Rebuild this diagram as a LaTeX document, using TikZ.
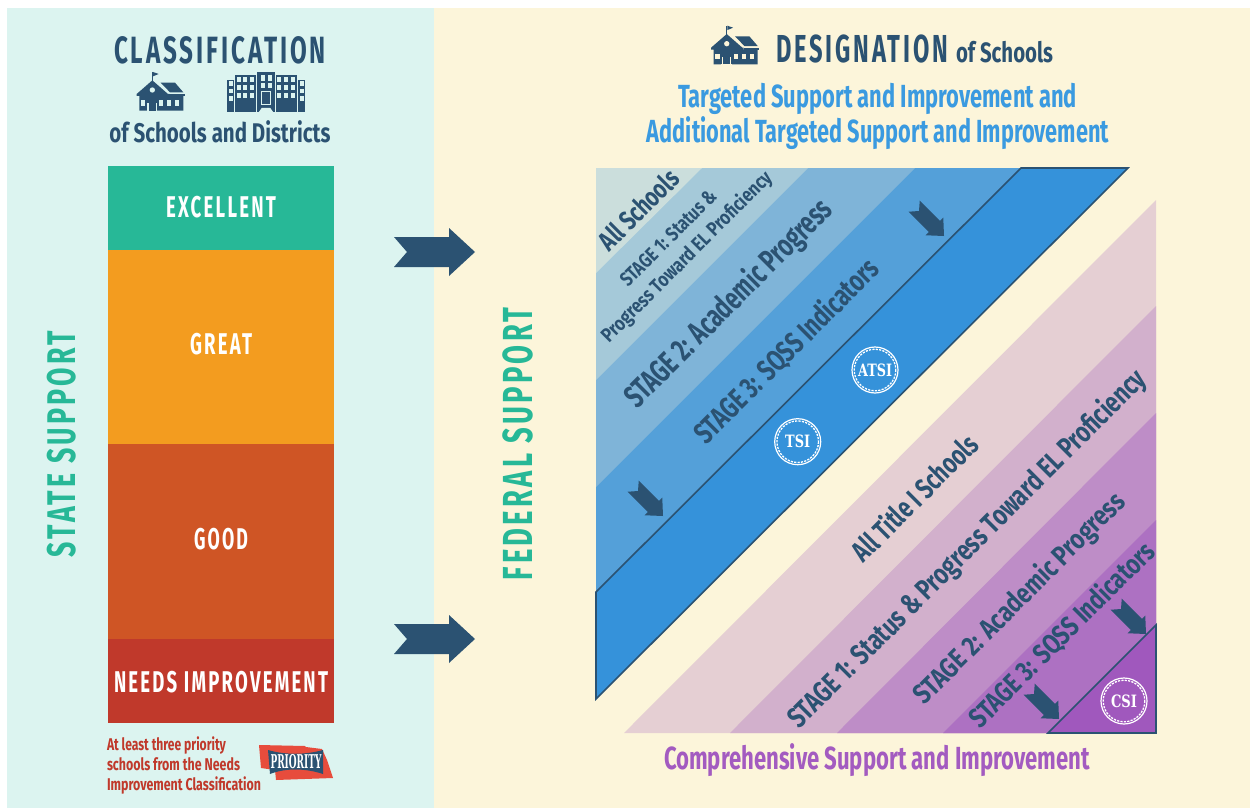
\documentclass[tikz,border=0pt]{standalone}
\usepackage{fontspec}
\usepackage{graphicx}
\newfontfamily\din{Fira Sans}
\newfontfamily\dinsp[LetterSpace=12]{Fira Sans}
\newfontfamily\slab{DejaVu Serif}
\definecolor{ink}{HTML}{2B5272}
\definecolor{mint}{HTML}{DCF4F0}
\definecolor{cream}{HTML}{FCF5DA}
\definecolor{teal}{HTML}{27B897}
\definecolor{amberx}{HTML}{F39C1F}
\definecolor{rustx}{HTML}{CF5525}
\definecolor{redx}{HTML}{C0392B}
\definecolor{skyx}{HTML}{3A9AE0}
\definecolor{purx}{HTML}{A35BC0}
\definecolor{bA}{HTML}{CBDEDC}
\definecolor{bB}{HTML}{A5C9D9}
\definecolor{bC}{HTML}{7FB4D8}
\definecolor{bD}{HTML}{54A0D9}
\definecolor{bE}{HTML}{3592DA}
\definecolor{pA}{HTML}{E5CFD3}
\definecolor{pB}{HTML}{D2B0CC}
\definecolor{pC}{HTML}{BE8DC7}
\definecolor{pD}{HTML}{AD71C2}
\definecolor{pE}{HTML}{A058BD}
\definecolor{flagred}{HTML}{E74C3C}
\newcommand{\fit}[3]{{\fontsize{#2}{#2}\selectfont\din\bfseries\resizebox{#1pt}{\height}{#3}}}
\newcommand{\fitsp}[3]{{\fontsize{#2}{#2}\selectfont\dinsp\bfseries\resizebox{#1pt}{\height}{#3}}}
\newcommand{\slabfit}[3]{{\fontsize{#2}{#2}\selectfont\slab\bfseries\resizebox{#1pt}{\height}{#3}}}
\newcommand{\schoolicon}[3]{%
\begin{scope}[shift={(#1,#2)},x=0.3333pt,y=-0.3333pt]
\fill[ink] (66,12) rectangle (69,40);
\fill[ink] (69,12) -- (86,18) -- (69,25) -- cycle;
\fill[ink] (67,37) -- (20,78) -- (20,84) -- (28,84) -- (28,128) -- (160,128) -- (160,84) -- (118,84) -- (118,78) -- (114,78) -- cycle;
\fill[ink] (118,78) rectangle (164,84);
\fill[ink] (92,44) -- (135,44) -- (160,73) -- (120,73) -- cycle;
\fill[#3] (67,66) circle (8);
\fill[#3] (33,97) rectangle (46,113);
\fill[#3] (88,97) rectangle (100,113);
\fill[#3] (112,97) rectangle (124,113);
\fill[#3] (136,97) rectangle (148,113);
\fill[#3] (52,106) rectangle (80,128);
\fill[ink] (56,92) rectangle (78,128);
\fill[#3] (50,128) rectangle (82,129);
\end{scope}}
\newcommand{\bigarrowshape}{(0,0) -- (-26,-24) -- (-26,-15) -- (-81,-15) -- (-68,0) -- (-81,15) -- (-26,15) -- (-26,24) -- cycle}
\tikzset{
  txt/.style={inner sep=0pt,outer sep=0pt,text=ink},
  wtxt/.style={inner sep=0pt,outer sep=0pt,text=white},
  diag/.style={txt,rotate=45},
  arrowfill/.style={fill=ink},
  bandline/.style={draw=ink,line width=1.6pt,line join=miter},
  badge/.style={circle,draw=white,line width=1.2pt,minimum size=46pt,inner sep=0pt,text=white},
}
\newcommand{\badgering}[2]{\draw[white,line width=1.3pt,dash pattern=on 2.2pt off 1.2pt] (#1,#2) circle (20.8);}
\begin{document}
\begin{tikzpicture}[x=1pt,y=-1pt]
\useasboundingbox (0,0) rectangle (1250,808);
\fill[white] (0,0) rectangle (1250,808);
\fill[mint] (7,8) rectangle (434,808);
\fill[cream] (434,8) rectangle (1250,808);
% left column bars
\fill[teal] (108,166) rectangle (334,250);
\fill[amberx] (108,250) rectangle (334,444);
\fill[rustx] (108,444) rectangle (334,639);
\fill[redx] (108,639) rectangle (334,723);
\node[txt] (classt) at (220,50) {\fitsp{212}{38}{CLASSIFICATION}};
\node[txt] (classs) at (220,132) {\fit{221}{27}{of Schools and Districts}};
\schoolicon{130}{68}{mint}
% building icon
\begin{scope}[shift={(220,68)},x=0.3333pt,y=-0.3333pt]
\fill[ink] (20,35) rectangle (42,132);
\fill[ink] (44,20) rectangle (108,132);
\fill[ink] (110,12) rectangle (165,132);
\fill[ink] (167,20) rectangle (231,132);
\fill[ink] (233,35) rectangle (255,132);
\foreach \y in {26,50,74}{\foreach \x in {50,70,90,172,192,212}{\fill[mint] (\x,\y) rectangle +(12,16);}}
\foreach \y in {40,62,84}{\foreach \x in {26,239}{\fill[mint] (\x,\y) rectangle +(12,14);}}
\foreach \y in {22,44}{\foreach \x in {124,143}{\fill[mint] (\x,\y) rectangle +(12,16);}}
\draw[mint,line width=0.8pt] (124,70) rectangle (152,108);
\fill[mint] (116,133) -- (125,120) -- (151,120) -- (160,133) -- cycle;
\end{scope}
\node[wtxt] (excellent) at (221,207) {\fitsp{110}{30}{EXCELLENT}};
\node[wtxt] (great) at (221,344) {\fitsp{62}{30}{GREAT}};
\node[wtxt] (good) at (221,539) {\fitsp{54}{30}{GOOD}};
\node[wtxt] (needs) at (221,682) {\fitsp{214}{30}{NEEDS IMPROVEMENT}};
\node[txt,text=teal,rotate=90] (state) at (62,444) {\fitsp{226}{40}{STATE SUPPORT}};
\node[txt,text=teal,rotate=90] (federal) at (518,444) {\fitsp{273}{42}{FEDERAL SUPPORT}};
\node[txt,text=redx,anchor=base west] (n1) at (107,750) {\fit{119}{17}{At least three priority}};
\node[txt,text=redx,anchor=base west] (n2) at (107,770.7) {\fit{133}{17}{schools from the Needs}};
\node[txt,text=redx,anchor=base west] (n3) at (107,790.7) {\fit{154}{17}{Improvement Classification}};
% priority badge
\fill[flagred] (259,745) -- (305,746) -- (306,747) -- (322,749) -- (327,760) -- (333,778) -- (276,780) -- (275,770) -- (261,768) -- cycle;
\fill[ink] (268,750) .. controls (285,755) and (305,755) .. (323,750) -- (323,774) .. controls (305,768) and (285,768) .. (270,774) -- cycle;
\node[wtxt] (priority) at (296,762) {\slabfit{51}{19}{PRIORITY}};
% big arrows
\begin{scope}[shift={(475,252)}]\fill[arrowfill] \bigarrowshape;\end{scope}
\begin{scope}[shift={(475,639)}]\fill[arrowfill] \bigarrowshape;\end{scope}
% right headings
\schoolicon{704.4}{21.7}{cream}
\node[txt,anchor=base west] (desig) at (776,62.7) {\fitsp{172}{39}{DESIGNATION}};
\node[txt,anchor=base west] (ofsch) at (956,62.7) {\fit{97}{28}{of Schools}};
\node[txt,text=skyx] (tsi1) at (877.5,99) {\fit{399}{32}{Targeted Support and Improvement and}};
\node[txt,text=skyx] (tsi2) at (878,133) {\fit{462}{32}{Additional Targeted Support and Improvement}};
\node[txt,text=purx] (csi) at (877,760) {\fit{426}{32}{Comprehensive Support and Improvement}};
% blue bands
\fill[bD] (596,168) -- (1021,168) -- (596,592) -- cycle;
\fill[bC] (596,168) -- (915,168) -- (596,487) -- cycle;
\fill[bB] (596,168) -- (808,168) -- (596,380) -- cycle;
\fill[bA] (596,168) -- (702,168) -- (596,273) -- cycle;
\path[fill=bE,bandline] (596,592) -- (1021,168) -- (1128,168) -- (596,699) -- cycle;
% purple bands
\fill[pA] (1156,200) -- (1156,733) -- (624,733) -- cycle;
\fill[pB] (1156,306) -- (1156,733) -- (730,733) -- cycle;
\fill[pC] (1156,413) -- (1156,733) -- (837,733) -- cycle;
\fill[pD] (1156,520) -- (1156,733) -- (943,733) -- cycle;
\path[fill=pE,bandline] (1156,625) -- (1156,733) -- (1048,733) -- cycle;
% small arrows
\foreach \tx/\ty in {944/236,663/516,1146/634,1059/719}{
\begin{scope}[shift={(\tx,\ty)},rotate=-45,scale=0.52]\fill[arrowfill] \bigarrowshape;\end{scope}}
% diagonal labels
\node[diag] (all) at (638.5,209.5) {\fit{101}{27}{All Schools}};
\node[diag] (b1a) at (668,238) {\fit{127}{20}{STAGE 1: Status \&}};
\node[diag] (b1b) at (687,257) {\fit{232}{20}{Progress Toward EL Proficiency}};
\node[diag] (b2) at (729,304) {\fit{279}{32}{STAGE 2: Academic Progress}};
\node[diag] (b3) at (786.5,351.5) {\fit{247}{30}{STAGE 3: SQSS Indicators}};
\node[diag] (title1) at (914,497) {\fit{165}{29}{All Title I Schools}};
\node[diag] (p1) at (967.5,549.5) {\fit{493}{29}{STAGE 1: Status \& Progress Toward EL Proficiency}};
\node[diag] (p2) at (1020,599) {\fit{286}{28}{STAGE 2: Academic Progress}};
\node[diag] (p3) at (1062,635) {\fit{249}{28}{STAGE 3: SQSS Indicators}};
% badges
\node[badge] (atsi) at (875,370) {\slabfit{34}{17}{ATSI}};
\badgering{875}{370}
\node[badge] (tsi) at (797.7,441.7) {\slabfit{25}{17}{TSI}};
\badgering{797.7}{441.7}
\node[badge] (csib) at (1124,701) {\slabfit{26}{17}{CSI}};
\badgering{1124}{701}
\end{tikzpicture}
\end{document}
